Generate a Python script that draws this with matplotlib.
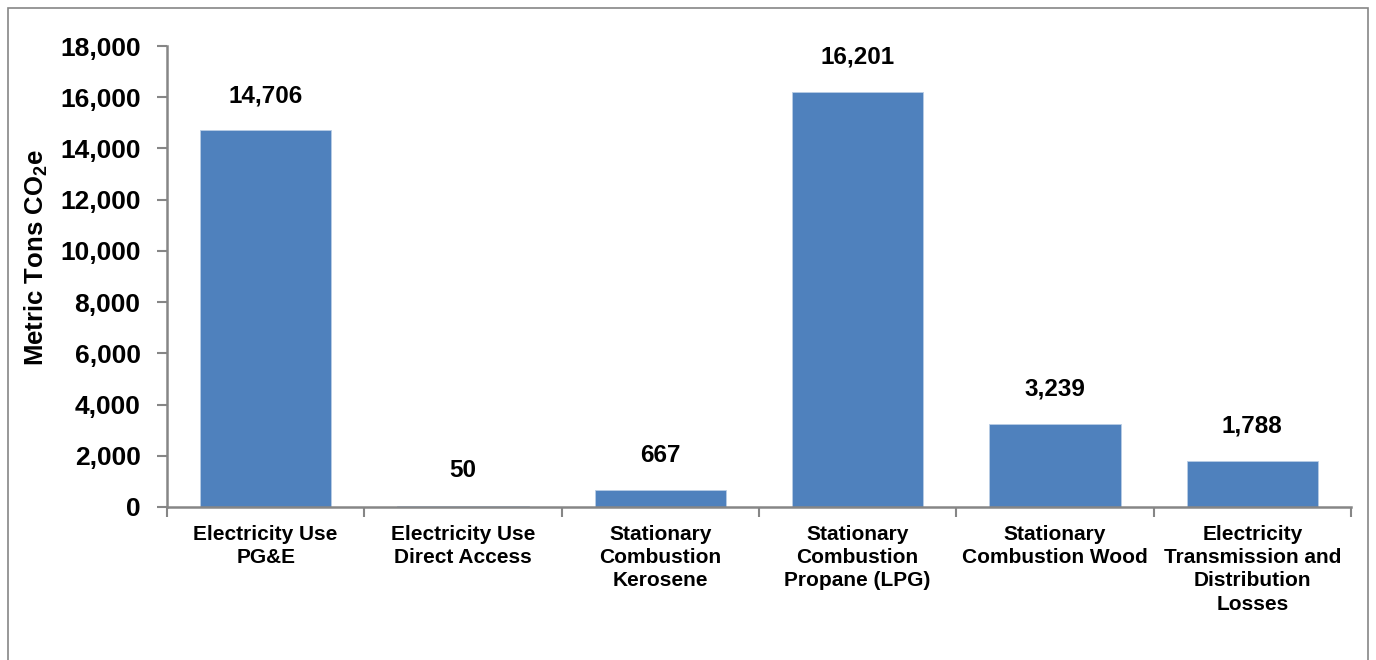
import matplotlib
matplotlib.use("Agg")
import matplotlib.pyplot as plt
from matplotlib.patches import Rectangle
import numpy as np

categories = [
    "Electricity Use\nPG&E",
    "Electricity Use\nDirect Access",
    "Stationary\nCombustion\nKerosene",
    "Stationary\nCombustion\nPropane (LPG)",
    "Stationary\nCombustion Wood",
    "Electricity\nTransmission and\nDistribution\nLosses",
]
values = [14706, 50, 667, 16201, 3239, 1788]
y_ticks = [0, 2000, 4000, 6000, 8000, 10000, 12000, 14000, 16000, 18000]

plt.rcParams["font.family"] = ["Liberation Sans", "DejaVu Sans"]
plt.rcParams["font.weight"] = "bold"
plt.rcParams["mathtext.fontset"] = "custom"
plt.rcParams["mathtext.rm"] = "Liberation Sans:bold"
plt.rcParams["mathtext.it"] = "Liberation Sans:bold"
plt.rcParams["mathtext.bf"] = "Liberation Sans:bold"

axis_gray = "#868686"
bar_blue = "#4F81BD"

fig = plt.figure(figsize=(13.76, 6.6), dpi=100)
ax = fig.add_axes([167 / 1376, 1 - 507 / 660, (1351 - 167) / 1376, (507 - 46) / 660])

# outer chart-area border (bottom edge runs past the image)
fig.patches.append(Rectangle((8 / 1376, -0.2), 1360 / 1376, 1.2 - 8 / 660,
                             transform=fig.transFigure, fill=False,
                             edgecolor=axis_gray, linewidth=1.2))

x = np.arange(len(categories))
ax.bar(x, values, width=0.665, color=bar_blue, edgecolor="#B9CDE5", linewidth=0.6)

for xi, v in zip(x, values):
    ax.annotate(f"{v:,}", (xi, v), xytext=(0, 25), textcoords="offset points",
                ha="center", va="center", fontsize=17.5, fontweight="bold")

ax.set_xlim(-0.5, len(categories) - 0.5)
ax.set_ylim(0, 18000)
ax.set_yticks(y_ticks)
ax.set_yticklabels([f"{t:,}" for t in y_ticks], fontsize=19, fontweight="bold")

# boundary ticks on the category axis, labels centred on bars
ax.set_xticks(np.arange(-0.5, len(categories), 1.0))
ax.set_xticklabels([])
ax.set_xticks(x, minor=True)
ax.set_xticklabels(categories, minor=True, fontsize=15, fontweight="bold",
                   linespacing=1.28, va="top")
ax.tick_params(axis="x", which="minor", length=0, pad=13)
ax.tick_params(axis="x", which="major", length=7, width=1.5, color=axis_gray, direction="out")
ax.tick_params(axis="y", length=7, width=1.5, color=axis_gray, direction="out", pad=12)

for s in ("top", "right"):
    ax.spines[s].set_visible(False)
for s in ("left", "bottom"):
    ax.spines[s].set_color(axis_gray)
    ax.spines[s].set_linewidth(1.8)

ax.set_ylabel("Metric Tons CO$_2$e", fontsize=18.5, fontweight="bold", labelpad=7)
ax.yaxis.label.set_y(0.54)

fig.savefig("out.png", dpi=100)
